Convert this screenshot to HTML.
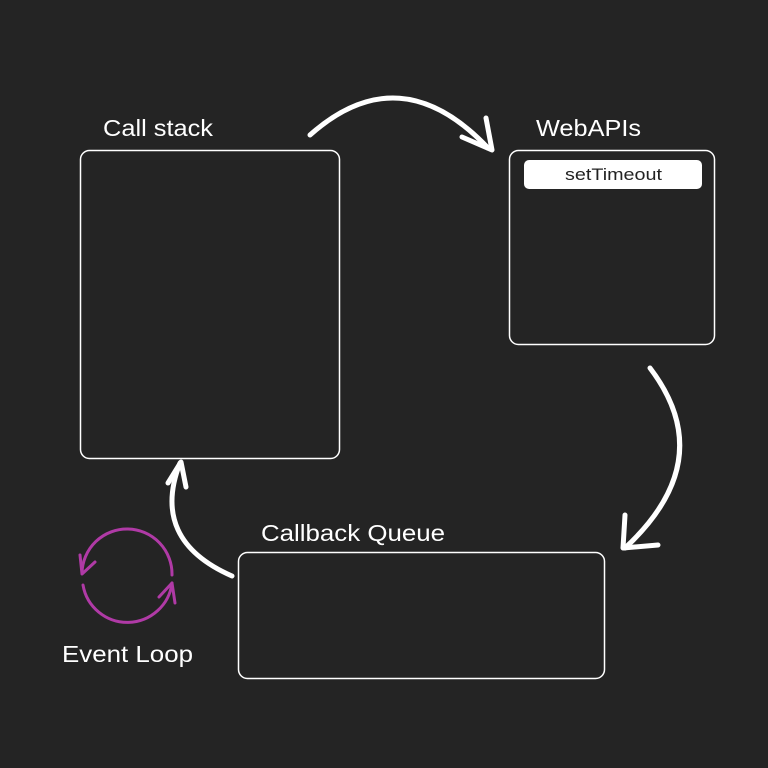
<!DOCTYPE html>
<html><head><style>
html,body{margin:0;padding:0;background:#242424;}
svg{display:block}
text{font-family:"Liberation Sans",sans-serif;fill:#fff}
</style></head><body>
<svg width="768" height="768" viewBox="0 0 768 768">
<rect width="768" height="768" fill="#242424"/>
<g fill="none" stroke="#fff" stroke-width="1.5">
<rect x="80.5" y="150.5" width="259" height="308" rx="9"/>
<rect x="509.5" y="150.5" width="205" height="194" rx="9"/>
<rect x="238.5" y="552.5" width="366" height="126" rx="9"/>
</g>
<rect x="524" y="160" width="178" height="29" rx="5" fill="#fff"/>
<text x="565" y="180" font-size="17" textLength="97" lengthAdjust="spacingAndGlyphs" style="fill:#222">setTimeout</text>
<text x="103" y="136" font-size="23" textLength="110" lengthAdjust="spacingAndGlyphs">Call stack</text>
<text x="536" y="136" font-size="23" textLength="105" lengthAdjust="spacingAndGlyphs">WebAPIs</text>
<text x="261" y="541" font-size="23" textLength="184" lengthAdjust="spacingAndGlyphs">Callback Queue</text>
<text x="62" y="662" font-size="23" textLength="131" lengthAdjust="spacingAndGlyphs">Event Loop</text>
<g fill="none" stroke="#fff" stroke-width="5" stroke-linecap="round" stroke-linejoin="round">
<path d="M310 135 Q400 55 488 148"/>
<path d="M462 137 L492 150 L486 118"/>
<path d="M650 368 Q720 460 625 548"/>
<path d="M625 515 L623 548 L658 545"/>
<path d="M232 576 Q150 540 180 463"/>
<path d="M168 483 L181 462 L186 487"/>
</g>
<g fill="none" stroke="#b03aa6" stroke-width="3" stroke-linecap="round" stroke-linejoin="round">
<path d="M82 573 A45 45 0 0 1 172 575"/>
<path d="M80 555 L82 574 L95 562"/>
<path d="M83 585 A45 45 0 0 0 172 583"/>
<path d="M159 597 L172 583 L175 603"/>
</g>
</svg>
</body></html>
